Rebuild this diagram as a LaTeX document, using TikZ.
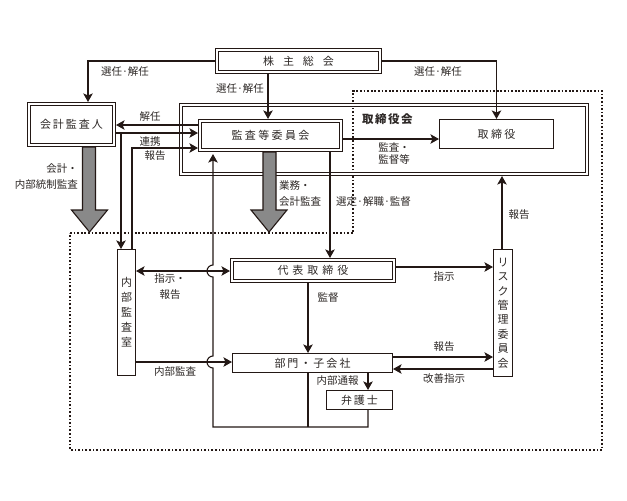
\documentclass[tikz,border=0pt]{standalone}
\usepackage{fontspec}
\setmainfont{Noto Sans CJK JP}
\usetikzlibrary{arrows.meta,calc}
\definecolor{lc}{RGB}{35,24,21}
\definecolor{tc}{RGB}{45,40,38}
\definecolor{gf}{RGB}{137,137,137}
\newcommand\ks[1]{\kern#1pt\relax}
\begin{document}
\begin{tikzpicture}[x=1pt,y=-1pt,
  every node/.style={text=tc, inner sep=0pt},
  dbl/.style={draw=lc, line width=0.85pt, double=white, double distance=2pt, outer sep=1.85pt, rectangle, font=\fontsize{11}{13}\selectfont},
  sgl/.style={draw=lc, line width=1.1pt, outer sep=0.55pt, fill=white, rectangle, font=\fontsize{11}{13}\selectfont},
  lab/.style={font=\fontsize{10.5}{16}\selectfont},
  arr/.style={draw=lc, line width=1.1pt, -{Stealth[length=8.5pt,width=9.5pt,inset=2pt]}},
  arrs/.style={draw=lc, line width=1.1pt, {Stealth[length=8.5pt,width=9.5pt,inset=2pt]}-{Stealth[length=8.5pt,width=9.5pt,inset=2pt]}},
  ln/.style={draw=lc, line width=1.1pt},
  dotline/.style={draw=lc, line width=1.3pt, dash pattern=on 1.7pt off 1.9pt},
  block/.style={draw=lc, line width=1.1pt, fill=gf, line join=miter}
]
\useasboundingbox (0,0) rectangle (627,501);
\fill[white] (0,0) rectangle (627,501);

% helper coordinates
\coordinate (c88) at (88,0);
\coordinate (c121) at (121,0);
\coordinate (c132) at (132,0);
\coordinate (c213) at (213,0);
\coordinate (c268) at (268,0);
\coordinate (c308) at (308,0);
\coordinate (c330) at (330,0);
\coordinate (c368) at (368,0);
\coordinate (c502) at (502,0);
\coordinate (r125) at (0,125);
\coordinate (r133) at (0,133);
\coordinate (r139) at (0,139);
\coordinate (r148) at (0,148);
\coordinate (r267) at (0,267);
\coordinate (r271) at (0,271);
\coordinate (r277) at (0,277);
\coordinate (r357) at (0,357);
\coordinate (r362) at (0,362);
\coordinate (r368) at (0,368);
\coordinate (r369) at (0,369);
\coordinate (r427) at (0,427);

% dotted region
\draw[dotline] (70,233) -- (353,233) -- (353,91) -- (602,91) -- (602,450) -- (70,450) -- cycle;

% boxes
\node[dbl, minimum width=163.4pt, minimum height=22.4pt] (kabu) at (298.5,61) {株\ks{9}主\ks{9}総\ks{9}会};
\node[dbl, minimum width=85.4pt, minimum height=41.4pt] (kaikei) at (71.5,124.5) {会\ks{2}計\ks{2}監\ks{2}査\ks{2}人};
\node[dbl, minimum width=406.4pt, minimum height=69.4pt] (torikai) at (384,139.5) {};
\node[anchor=west, font=\fontsize{11.5}{13}\selectfont\bfseries] (torikailab) at (362,119) {取\ks{1.5}締\ks{1.5}役\ks{1.5}会};
\node[dbl, minimum width=141.4pt, minimum height=29.4pt] (kansa) at (270.5,135.5) {監\ks{2.4}査\ks{2.4}等\ks{2.4}委\ks{2.4}員\ks{2.4}会};
\node[sgl, minimum width=114pt, minimum height=29pt] (tori) at (496.5,134) {取\ks{2.5}締\ks{2.5}役};
\node[dbl, minimum width=162.4pt, minimum height=21.4pt] (daihyo) at (313,270.5) {代\ks{4}表\ks{4}取\ks{4}締\ks{4}役};
\node[sgl, minimum width=18pt, minimum height=126pt, align=center, font=\fontsize{11}{15}\selectfont] (naibu) at (126.5,312.5) {内\\部\\監\\査\\室};
\node[sgl, minimum width=19pt, minimum height=127pt, align=center, font=\fontsize{11}{14.4}\selectfont] (risk) at (503,313) {リ\\ス\\ク\\管\\理\\委\\員\\会};
\node[sgl, minimum width=160pt, minimum height=19pt] (bumon) at (312.5,363) {部\ks{2}門\ks{2}・\ks{2}子\ks{2}会\ks{2}社};
\node[sgl, minimum width=66pt, minimum height=19pt] (bengo) at (359.5,400) {弁\ks{2}護\ks{2}士};

% connectors
\draw[arr] (kabu.west) -| (kaikei.north -| c88);
\draw[arr] (kabu.south -| c268) -- (kansa.north -| c268);
\draw[arr] (kabu.east) -| (tori.north);
\draw[arr] (kansa.west |- r125) -- (kaikei.east |- r125);
\draw[arr] (kaikei.east |- r133) -- (kansa.west |- r133);
\draw[arr] (c121 |- r133) -- (naibu.north -| c121);
\draw[arr] (naibu.north -| c132) |- (kansa.west |- r148);
\draw[arr] (kansa.east |- r139) -- (tori.west |- r139);
\draw[arr] (kansa.south -| c330) -- (daihyo.north -| c330);
\draw[arr] (risk.north -| c502) -- (torikai.south -| c502);
\draw[arrs] (naibu.east |- r271) -- (daihyo.west |- r271);
\draw[arr] (daihyo.east |- r267) -- (risk.west |- r267);
\draw[arr] (daihyo.south -| c308) -- (bumon.north -| c308);
\draw[arr] (naibu.east |- r362) -- (bumon.west |- r362);
\draw[arr] (bumon.east |- r357) -- (risk.west |- r357);
\draw[arr] (risk.west |- r369) -- (bumon.east |- r369);
\draw[arr] (bumon.south -| c368) -- (bengo.north -| c368);
\draw[ln] (bumon.south -| c308) -- (c308 |- r427);
\draw[arr] (bengo.south -| c368) |- (c213 |- r427) -- (c213 |- r368)
  arc[start angle=90, end angle=270, radius=6] -- (c213 |- r277)
  arc[start angle=90, end angle=270, radius=6] -- ($(kansa.south -| c213)+(0,2)$);

% gray block arrows
\draw[block] (82.5,147) -- (95.5,147) -- (95.5,210) -- (107.5,210) -- (89.5,232) -- (71.5,210) -- (82.5,210) -- cycle;
\draw[block] (263,152) -- (276,152) -- (276,210) -- (287,210) -- (269,232) -- (251,210) -- (263,210) -- cycle;

% labels
\node[lab] (l1) at (125,72) {選任·解任};
\node[lab] (l2) at (240,89) {選任·解任};
\node[lab] (l3) at (438,72) {選任·解任};
\node[lab] (l4) at (150,117) {解任};
\node[lab] (l5) at (150,142) {連携};
\node[lab] (l6) at (155,156) {報告};
\node[lab, align=right, anchor=east] (l7) at (78,177) {会計・\\内部統制監査};
\node[lab, align=left, anchor=west] (l8) at (279,194) {業務・\\会計監査};
\node[lab, align=center, font=\fontsize{10.5}{12}\selectfont] (l9) at (394,154) {監査・\\監督等};
\node[lab, anchor=west] (l10) at (336,202) {選定·解職·監督};
\node[lab] (l11) at (519,215) {報告};
\node[lab, align=center] (l12) at (170,287) {指示・\\報告};
\node[lab] (l13) at (444,277) {指示};
\node[lab] (l14) at (328,298) {監督};
\node[lab] (l15) at (175,372) {内部監査};
\node[lab] (l16) at (444,347) {報告};
\node[lab] (l17) at (444,379) {改善指示};
\node[lab] (l18) at (337.5,381) {内部通報};
\end{tikzpicture}
\end{document}
